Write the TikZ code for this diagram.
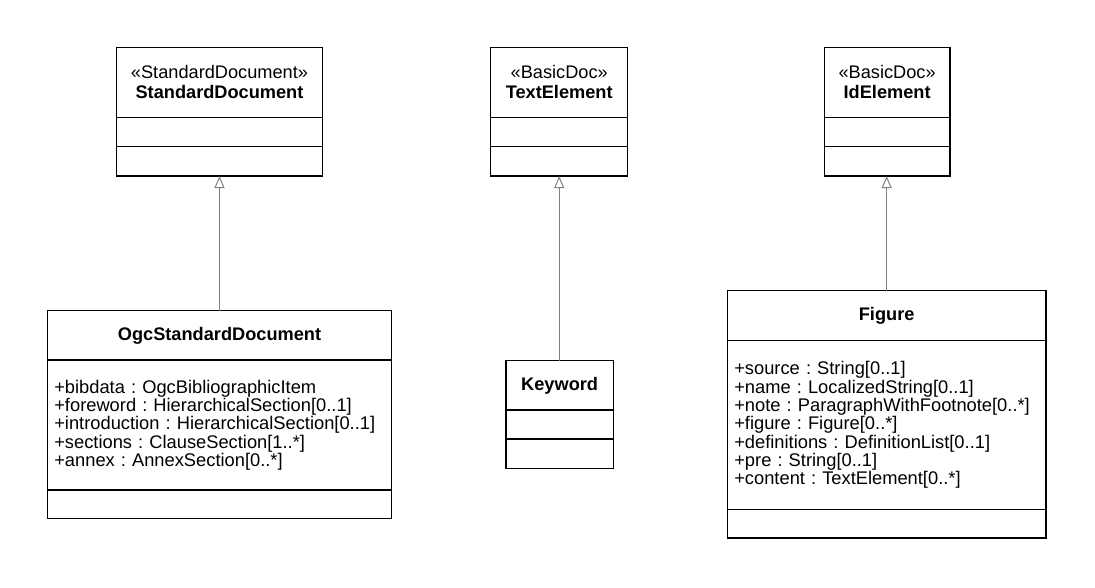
\documentclass[tikz,border=0pt]{standalone}
\usepackage{fontspec}
\setmainfont{Liberation Sans}
\usetikzlibrary{arrows.meta}
\frenchspacing
\begin{document}
\begin{tikzpicture}[x=1pt,y=-1pt,
  box/.style={draw=black, line width=1.3pt, inner sep=0pt, outer sep=0pt, anchor=north west,
    font=\fontsize{18.2}{20}\selectfont\frenchspacing, align=center},
  attrs/.style={box, align=left, inner xsep=7pt, font=\fontsize{18.3}{18.3}\selectfont\frenchspacing},
  gen/.style={draw=black!50, line width=1pt, -{Triangle[open, length=12pt, width=10pt]}}
]
\useasboundingbox (0,0) rectangle (1095,587);

% StandardDocument
\node[box, minimum width=205.6pt, minimum height=70pt] (sdH) at (116.7,47.3)
  {«StandardDocument»\\\textbf{StandardDocument}};
\node[box, minimum width=205.6pt, minimum height=29.4pt] (sdA) at (sdH.south west) {};
\node[box, minimum width=205.6pt, minimum height=29.3pt] (sdO) at (sdA.south west) {};

% TextElement
\node[box, minimum width=137pt, minimum height=70pt] (teH) at (490.7,47.3)
  {«BasicDoc»\\\textbf{TextElement}};
\node[box, minimum width=137pt, minimum height=29.4pt] (teA) at (teH.south west) {};
\node[box, minimum width=137pt, minimum height=29.3pt] (teO) at (teA.south west) {};

% IdElement
\node[box, minimum width=125.7pt, minimum height=70pt] (ieH) at (824.3,47.3)
  {«BasicDoc»\\\textbf{IdElement}};
\node[box, minimum width=125.7pt, minimum height=29.4pt] (ieA) at (ieH.south west) {};
\node[box, minimum width=125.7pt, minimum height=29.3pt] (ieO) at (ieA.south west) {};

% OgcStandardDocument
\node[box, minimum width=344.4pt, minimum height=49.3pt] (ogH) at (47.3,310.7)
  {\textbf{OgcStandardDocument}};
\node[attrs, text width=330.4pt, minimum height=130pt] (ogA) at (ogH.south west)
  {+bibdata : OgcBibliographicItem\\
   +foreword : HierarchicalSection[0..1]\\
   +introduction : HierarchicalSection[0..1]\\
   +sections : ClauseSection[1..*]\\
   +annex : AnnexSection[0..*]};
\node[box, minimum width=344.4pt, minimum height=28.3pt] (ogO) at (ogA.south west) {};

% Keyword
\node[box, minimum width=107.3pt, minimum height=49.3pt] (kwH) at (506,360.7)
  {\textbf{Keyword}};
\node[box, minimum width=107.3pt, minimum height=29pt] (kwA) at (kwH.south west) {};
\node[box, minimum width=107.3pt, minimum height=29.3pt] (kwO) at (kwA.south west) {};

% Figure
\node[box, minimum width=318.7pt, minimum height=50pt] (fgH) at (727.3,290.7)
  {\textbf{Figure}};
\node[attrs, text width=304.7pt, minimum height=168.6pt] (fgA) at (fgH.south west)
  {+source : String[0..1]\\
   +name : LocalizedString[0..1]\\
   +note : ParagraphWithFootnote[0..*]\\
   +figure : Figure[0..*]\\
   +definitions : DefinitionList[0..1]\\
   +pre : String[0..1]\\
   +content : TextElement[0..*]};
\node[box, minimum width=318.7pt, minimum height=28.7pt] (fgO) at (fgA.south west) {};

% generalizations
\draw[gen] (ogH.north) -- (sdO.south);
\draw[gen] (kwH.north -| teO.south) -- (teO.south);
\draw[gen] (fgH.north) -- (fgH.north |- ieO.south);
\end{tikzpicture}
\end{document}
